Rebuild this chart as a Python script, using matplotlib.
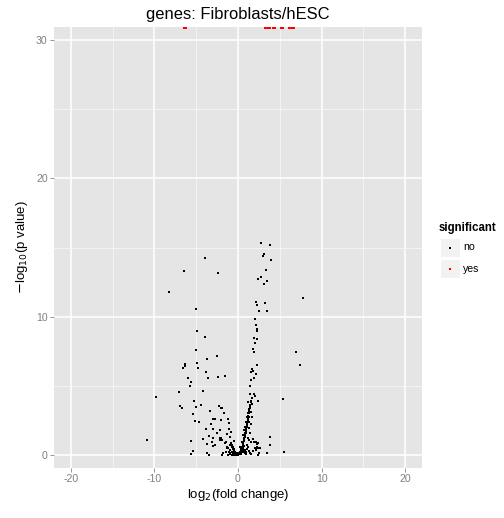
import numpy as np
import matplotlib
matplotlib.use("Agg")
import matplotlib.pyplot as plt
from matplotlib.patches import Rectangle

plt.rcParams['font.family'] = ['Liberation Sans', 'DejaVu Sans']
plt.rcParams['axes.unicode_minus'] = False

# log2 fold change / -log10 p value, non significant genes
fold_change = np.array([
    2.75, 3.80, 3.11, 2.96, 3.92, -3.99, 3.39, -6.47, -2.43, 2.40, 2.75, 3.47, 3.11,
    -8.23, 7.82, 2.19, 2.28, 3.20, 2.51, 3.44, -5.07, 2.07, 2.16, 2.24, 2.24, -4.91,
    -3.92, 1.92, 2.31, 2.04, 1.76, 1.92, -5.03, 6.91, -3.68, -2.51, -4.95, -6.31,
    -6.38, -6.59, -4.75, 2.28, 7.43, 1.68, 1.83, 1.56, 2.16, -3.80, -1.52, -2.40,
    -3.59, 1.88, -5.95, -5.59, -5.75, 1.56, 1.47, -7.10, -4.16, -9.78, 1.44, 1.92,
    2.04, 5.35,
    -5.23, -6.95, -6.74, -4.43, -5.07, -2.31, -2.07, -1.92, -3.32, -5.35, -1.68,
    -2.96, -2.79, -5.11, -4.67, -2.04, -1.20, -1.11, -3.20, -3.80, -3.03, -1.04,
    -0.84, -2.55, -3.47, -2.96, -4.23, -1.35, -2.16, -1.92, -10.86, -5.67, -3.71,
    -3.15, -1.47, -3.03, -5.43, -5.67, -3.71, -3.47, -1.92, -1.35, -1.11, -0.96,
    -0.72, -2.16, -2.16, -2.04, -2.75, -1.56, -1.35, -1.16, -0.96, -1.76, -1.47,
    1.64, 1.56, 2.36, 1.20, 1.68, 1.44, 1.32, 1.52, 1.24, 1.04, 1.32, 1.64, 0.96,
    1.20, 1.36, 1.52, 0.84, 1.04, 1.32, 0.72, 0.96, 1.44, 0.64, 0.84, 1.24, 1.84,
    2.12, 2.36, 1.60, 3.83, 3.83, 2.04, 2.31, 1.76, 2.55, 2.43, 3.44, 5.51, -0.48,
    -0.96, -0.76, 0.44, 0.56, 0.24, 0.64, 0.84, 0.96, 0.84, 1.32, 1.92, 2.24, 2.40,
    2.16, 2.43, 2.24, 2.63,
    -0.12, -0.20, -0.30, -0.35, -0.45, -0.50, -0.60, -0.62, -0.70, -0.80, -0.85,
    -0.25, -0.40, -0.55, -0.65, -0.75, -0.90, -1.00, -1.20, -0.15, 0.05, 0.10, 0.15,
    0.20, 0.25, 0.30, 0.35, 0.40, 0.45, 0.50, 0.55, 0.60, 0.62, 0.68, 0.72, 0.75,
    0.80, 0.85, 0.90, 0.92, 0.98, 1.02, 1.05, 1.10, 1.15, 1.20, 1.25, 1.30, 1.35,
    1.40, 1.45, 1.50, 0.20, 0.30, 0.40, 0.50, 0.60, 0.70, 0.80, 0.90, 1.00, 1.10,
    1.20, 1.05, 0.35, 0.45, 0.55, 0.65, 0.75, 1.30, 1.40, 1.50, 0.00, -0.05, 0.02,
    -0.10, 0.08, -0.30, -0.50, -0.70, 0.12, 0.28, 0.38, 0.58, -0.22, -0.42, -0.58,
])
neglog_p = np.array([
    15.33, 15.18, 14.53, 14.41, 14.10, 14.24, 13.38, 13.30, 13.18, 12.73, 12.87,
    12.58, 12.36, 11.79, 11.35, 11.08, 10.85, 10.99, 10.43, 10.43, 10.56, 9.83, 9.40,
    9.13, 8.94, 8.99, 8.53, 8.46, 8.39, 8.10, 7.66, 7.45, 7.59, 7.45, 6.96, 7.16,
    6.65, 6.56, 6.44, 6.31, 6.31, 6.51, 6.51, 6.20, 6.10, 6.00, 5.88, 6.00, 5.73,
    5.66, 5.59, 5.59, 5.59, 5.28, 5.01, 5.42, 5.01, 4.56, 4.65, 4.22, 4.43, 4.41,
    4.29, 4.05,
    3.93, 3.56, 3.40, 3.62, 3.49, 3.54, 3.40, 3.40, 3.18, 2.99, 3.04, 2.58, 2.60,
    2.48, 2.36, 2.55, 2.60, 2.29, 2.24, 1.90, 1.90, 1.90, 1.66, 1.57, 1.37, 1.21,
    1.16, 1.52, 1.08, 1.08, 1.08, 1.01, 0.80, 0.96, 0.96, 0.65, 0.31, 0.07, 0.12,
    0.00, 0.02, 0.48, 0.24, 0.72, 0.60, 1.83, 1.21, 1.21, 0.72, 0.85, 0.60, 0.48,
    0.36, 0.12, 0.24,
    4.10, 3.90, 3.93, 3.83, 3.71, 3.49, 3.30, 3.13, 3.06, 2.77, 2.77, 2.77, 2.41,
    2.46, 2.39, 2.22, 2.05, 2.10, 1.97, 1.81, 1.69, 1.57, 1.45, 1.32, 1.21, 1.13,
    0.94, 0.85, 0.96, 1.32, 0.72, 0.53, 0.53, 0.31, 0.12, 0.00, 0.17, 0.24, 1.03,
    1.32, 0.72, 0.96, 0.72, 0.60, 0.48, 0.36, 0.24, 1.57, 1.06, 0.92, 0.80, 0.48,
    0.36, 0.85, 0.60, 0.48,
    0.05, 0.10, 0.15, 0.22, 0.30, 0.40, 0.45, 0.55, 0.62, 0.70, 0.90, 0.05, 0.10,
    0.15, 0.08, 0.20, 0.12, 0.05, 0.03, 0.02, 0.02, 0.05, 0.10, 0.15, 0.20, 0.28,
    0.35, 0.42, 0.50, 0.60, 0.70, 0.80, 0.90, 1.00, 1.10, 1.20, 1.30, 1.45, 1.60,
    1.75, 1.85, 2.00, 2.15, 2.30, 2.50, 2.65, 2.85, 3.00, 3.20, 3.40, 3.60, 3.80,
    0.05, 0.08, 0.12, 0.20, 0.25, 0.30, 0.15, 0.05, 0.10, 0.40, 0.60, 0.75, 0.05,
    0.25, 0.35, 0.55, 0.65, 0.30, 0.15, 0.05, 0.00, 0.01, 0.08, 0.12, 0.15, 0.02,
    0.06, 0.03, 0.18, 0.10, 0.22, 0.40, 0.01, 0.04, 0.02,
])

# significant genes: p value 0 -> -log10 = Inf (drawn at the panel edge)
sig_fold_change = np.array([-6.35, 3.35, 3.65, 4.35, 5.3, 6.25, 6.6])
sig_neglog_p = np.full(sig_fold_change.shape, np.inf)

x_ticks = [-20, -10, 0, 10, 20]
y_ticks = [0, 10, 20, 30]
x_limits = (-22, 22)
y_limits = (-0.94, 30.94)

fig = plt.figure(figsize=(504 / 72, 518 / 72), dpi=72)
ax = fig.add_axes([54 / 504, 1 - 468 / 518, 368 / 504, 441 / 518])
ax.set_facecolor('#E5E5E5')
for s in ax.spines.values():
    s.set_visible(False)

ax.set_xlim(*x_limits)
ax.set_ylim(*y_limits)
ax.set_xticks(x_ticks)
ax.set_yticks(y_ticks)
ax.set_xticks([-15, -5, 5, 15], minor=True)
ax.set_yticks([5, 15, 25], minor=True)
ax.grid(which='major', color='white', lw=1.6)
ax.grid(which='minor', color='#F7F7F7', lw=0.8)
ax.set_axisbelow(True)
ax.tick_params(which='major', colors='#7F7F7F', labelsize=10.5, length=4.3, width=0.8, pad=2)
ax.tick_params(which='minor', length=0)

ax.scatter(fold_change, neglog_p, s=5.5, c='black', marker='s', lw=0, zorder=3)
sig_y = np.where(np.isinf(sig_neglog_p), y_limits[1], sig_neglog_p)
ax.scatter(sig_fold_change, sig_y, s=12, c='red', marker='s', lw=0, zorder=3, clip_on=True)

ax.set_title('genes: Fibroblasts/hESC', fontsize=16.5, pad=8)
ax.set_xlabel(r'log$_2$(fold change)', fontsize=13.3, labelpad=3)
ax.set_ylabel(r'$-$log$_{10}$(p value)', fontsize=13.3, labelpad=6)

# legend
lax = fig.add_axes([438 / 504, 1 - 282 / 518, 66 / 504, 67 / 518])
lax.set_xlim(0, 66)
lax.set_ylim(67, 0)
lax.axis('off')
lax.text(1, 13, 'significant', fontsize=11.5, fontweight='bold', va='center', ha='left')
for i, (lab, col) in enumerate([('no', 'black'), ('yes', 'red')]):
    y0 = 23 + i * 21
    lax.add_patch(Rectangle((2, y0), 20, 19, facecolor='#F2F2F2', edgecolor='white', lw=1))
    lax.scatter([12], [y0 + 9.5], s=5.5, c=col, marker='s', lw=0)
    lax.text(25, y0 + 9.5, lab, fontsize=10.5, va='center', ha='left')

fig.savefig('out.png', dpi=72)
